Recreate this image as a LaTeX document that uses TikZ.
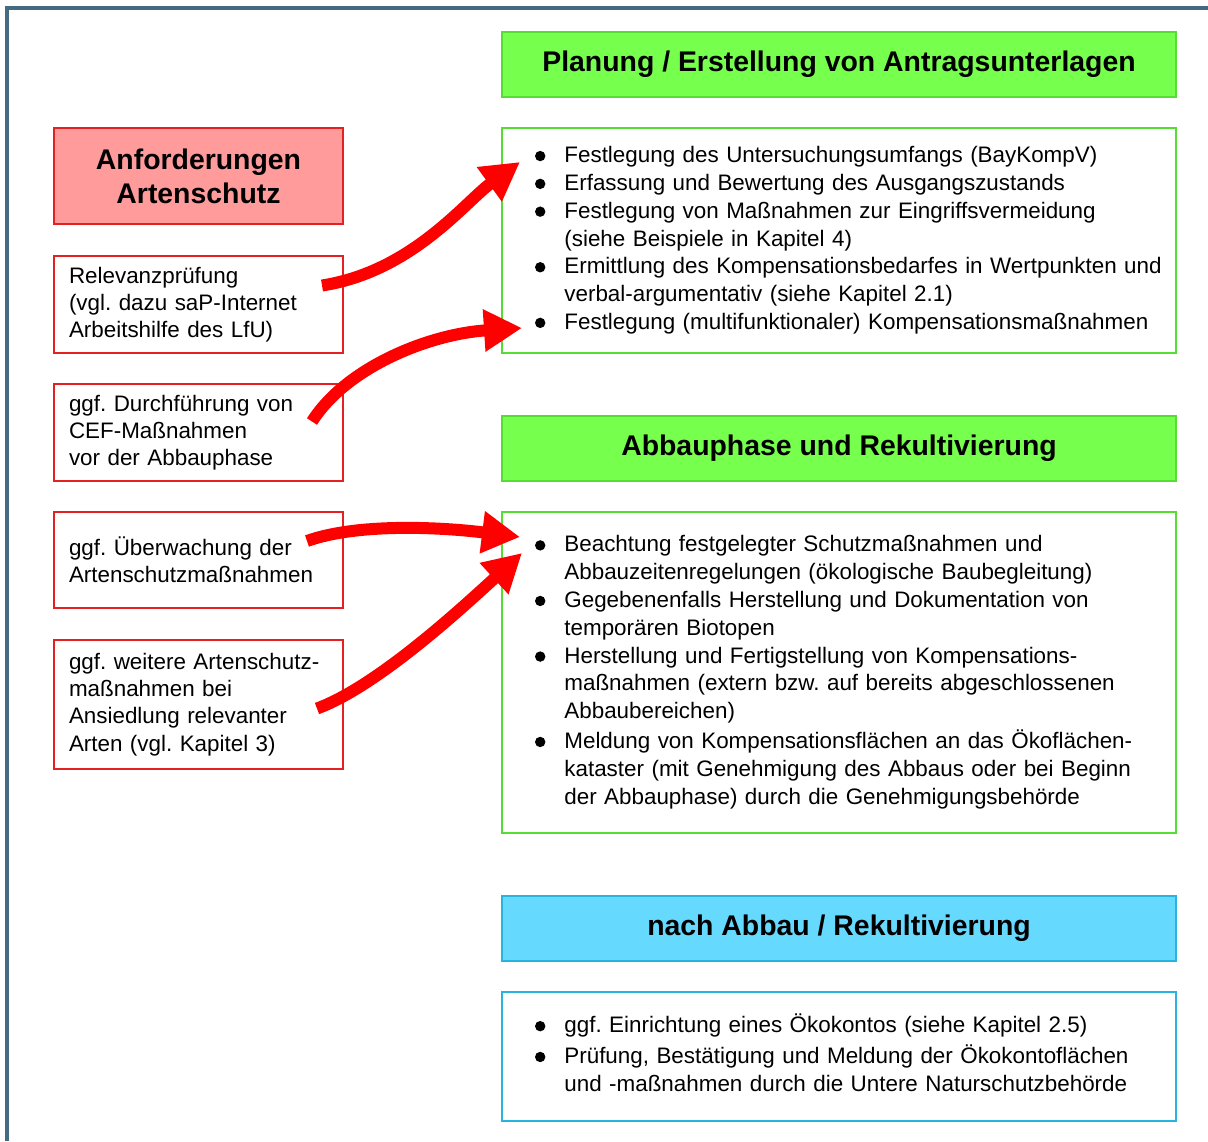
\documentclass[tikz,border=0pt]{standalone}
\usepackage{fontspec}
\setmainfont{Liberation Sans}
\usetikzlibrary{arrows.meta,calc}
\hfuzz=30pt
\frenchspacing

\definecolor{gruen}{HTML}{77FF4D}
\definecolor{gruenrand}{HTML}{55DD33}
\definecolor{blau}{HTML}{66D9FF}
\definecolor{blaurand}{HTML}{29B4E0}
\definecolor{rosa}{HTML}{FF9B9B}
\definecolor{rotrand}{HTML}{E52020}
\definecolor{rahmenblau}{HTML}{456B82}

\newcommand{\punkt}{\tikz[baseline=0pt]\fill[black] (2.5pt,3.3pt) circle[radius=2.6pt];}

\tikzset{
  rahmen/.style={draw=rahmenblau, line width=2pt},
  kopf/.style={draw, line width=1pt, anchor=north west, minimum width=337pt,
    minimum height=32.5pt, font=\fontsize{14.2}{17}\selectfont\bfseries},
  liste/.style={draw, line width=1pt, fill=white, anchor=north west,
    minimum width=337pt, inner xsep=16.5pt, text width=304pt, align=left,
    font=\fontsize{11.2}{13.9}\selectfont},
  rotkopf/.style={draw=rotrand, fill=rosa, line width=1pt, anchor=north west,
    minimum width=144.5pt, minimum height=48pt, align=center,
    font=\fontsize{14.2}{17}\selectfont\bfseries},
  rotbox/.style={draw=rotrand, line width=1pt, anchor=north west,
    minimum width=144.5pt, inner xsep=7.5pt, text width=129.5pt, align=left,
    font=\fontsize{11.2}{13.6}\selectfont},
  pfeil/.style={draw=red, line width=6pt, -{Triangle[length=19pt,width=20pt]}}
}

\begin{document}
\begin{tikzpicture}[x=0.5pt, y=-0.5pt]
  \useasboundingbox (0,0) rectangle (1208,1141);
  \draw[rahmen] (7,1141) -- (7,8) -- (1208,8);

  % rechte Spalte
  \node[kopf, draw=gruenrand, fill=gruen] (kopfplan) at (501,31) {Planung / Erstellung von Antragsunterlagen};
  \node[liste, draw=gruenrand, minimum height=112.5pt] (plan) at (501,127) {%
    \begin{tabular}{@{}l@{\hspace{9.5pt}}l@{}}
    \punkt & Festlegung des Untersuchungsumfangs (BayKompV)\\
    \punkt & Erfassung und Bewertung des Ausgangszustands\\
    \punkt & Festlegung von Maßnahmen zur Eingriffsvermeidung\\
           & (siehe Beispiele in Kapitel 4)\\
    \punkt & Ermittlung des Kompensationsbedarfes in Wertpunkten und\\
           & verbal-argumentativ (siehe Kapitel 2.1)\\
    \punkt & Festlegung (multifunktionaler) Kompensationsmaßnahmen
    \end{tabular}};

  \node[kopf, draw=gruenrand, fill=gruen] (kopfabbau) at (501,415) {Abbauphase und Rekultivierung};
  \node[liste, draw=gruenrand, minimum height=160.5pt] (abbau) at (501,511) {%
    \begin{tabular}{@{}l@{\hspace{9.5pt}}l@{}}
    \punkt & Beachtung festgelegter Schutzmaßnahmen und\\
           & Abbauzeitenregelungen (ökologische Baubegleitung)\\
    \punkt & Gegebenenfalls Herstellung und Dokumentation von\\
           & temporären Biotopen\\
    \punkt & Herstellung und Fertigstellung von Kompensations-\\
           & maßnahmen (extern bzw. auf bereits abgeschlossenen\\
           & Abbaubereichen)\\[1pt]
    \punkt & Meldung von Kompensationsflächen an das Ökoflächen-\\
           & kataster (mit Genehmigung des Abbaus oder bei Beginn\\
           & der Abbauphase) durch die Genehmigungsbehörde
    \end{tabular}};

  \node[kopf, draw=blaurand, fill=blau] (kopfnach) at (501,895) {nach Abbau / Rekultivierung};
  \node[liste, draw=blaurand, minimum height=64.5pt] (nach) at (501,991) {%
    \begin{tabular}{@{}l@{\hspace{9.5pt}}l@{}}
    \punkt & ggf. Einrichtung eines Ökokontos (siehe Kapitel 2.5)\\[1.5pt]
    \punkt & Prüfung, Bestätigung und Meldung der Ökokontoflächen\\
           & und -maßnahmen durch die Untere Naturschutzbehörde
    \end{tabular}};

  % linke Spalte
  \node[rotkopf] (anford) at (53,127) {Anforderungen\\Artenschutz};
  \node[rotbox, minimum height=48.5pt] (relevanz) at (53,255)
    {Relevanzprüfung\\(vgl. dazu saP-Internet\\Arbeitshilfe des LfU)};
  \node[rotbox, minimum height=48.5pt] (cef) at (53,383)
    {ggf. Durchführung von\\CEF-Maßnahmen\\vor der Abbauphase};
  \node[rotbox, minimum height=48pt] (ueberw) at (53,511)
    {ggf. Überwachung der\\Artenschutzmaßnahmen};
  \node[rotbox, minimum height=64.5pt] (weitere) at (53,639)
    {ggf. weitere Artenschutz-\\maßnahmen bei\\Ansiedlung relevanter\\Arten (vgl. Kapitel 3)};

  % Pfeile
  \coordinate (a1) at ($(relevanz.east)+(-22,-19)$);
  \coordinate (e1) at ($(plan.north west)+(19,35)$);
  \coordinate (a2) at ($(cef.east)+(-32,-11)$);
  \coordinate (e2) at ($(plan.south west)+(21,-26)$);
  \coordinate (a3) at ($(ueberw.east)+(-37,-19)$);
  \coordinate (e3) at ($(abbau.north west)+(19,26)$);
  \coordinate (a4) at ($(weitere.east)+(-27,4)$);
  \coordinate (e4) at ($(abbau.north west)+(21,42)$);
  \draw[pfeil] (a1) .. controls +(90,-14) and +(-55,40) .. (e1);
  \draw[pfeil] (a2) .. controls +(35,-55) and +(-92,6) .. (e2);
  \draw[pfeil] (a3) .. controls +(50,-18) and +(-80,-10) .. (e3);
  \draw[pfeil] (a4) .. controls +(60,-22) and +(-60,55) .. (e4);
\end{tikzpicture}
\end{document}
